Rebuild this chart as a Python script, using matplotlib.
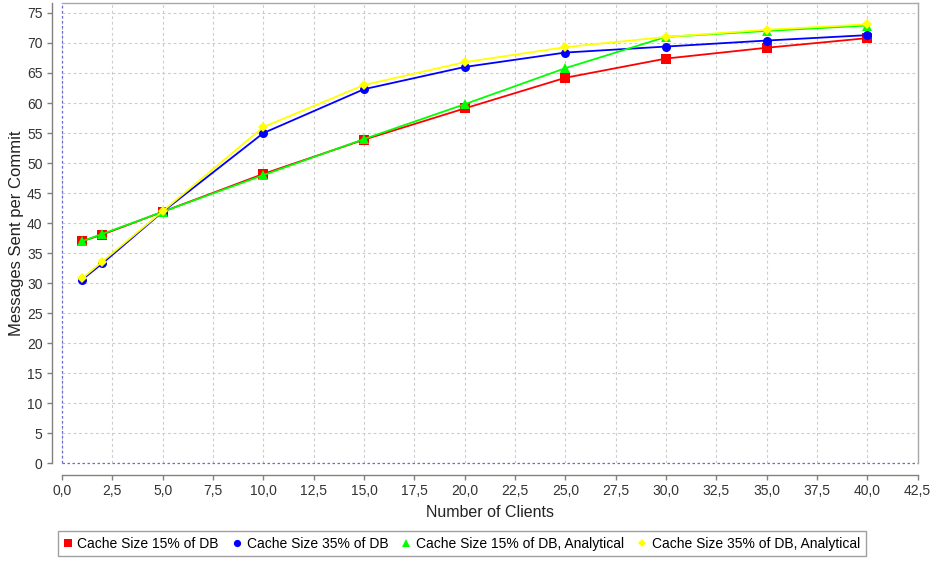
import matplotlib
matplotlib.use("Agg")
import matplotlib.pyplot as plt
from matplotlib.ticker import FuncFormatter, MultipleLocator

plt.rcParams['font.family'] = ['Liberation Sans', 'DejaVu Sans']

clients = [1, 2, 5, 10, 15, 20, 25, 30, 35, 40]
cache15 = [37.0, 38.1, 41.9, 48.2, 53.9, 59.1, 64.2, 67.4, 69.2, 70.8]
cache35 = [30.6, 33.3, 41.9, 55.0, 62.3, 66.0, 68.4, 69.4, 70.4, 71.3]
cache15_analytical = [37.0, 38.2, 41.9, 48.0, 54.0, 59.8, 65.8, 71.0, 72.0, 72.9]
cache35_analytical = [30.8, 33.6, 42.0, 56.0, 63.0, 66.8, 69.3, 71.0, 72.2, 73.1]

series = [
    ("Cache Size 15% of DB", cache15, "#ff0000", "s", 7.5),
    ("Cache Size 35% of DB", cache35, "#0000ff", "o", 6.5),
    ("Cache Size 15% of DB, Analytical", cache15_analytical, "#00ff00", "^", 6.5),
    ("Cache Size 35% of DB, Analytical", cache35_analytical, "#ffff00", "D", 5.5),
]

fig = plt.figure(figsize=(9.33, 5.61), dpi=100)
ax = fig.add_axes([0.0665, 0.1738, 0.917, 0.8214])

for label, vals, color, marker, ms in series:
    ax.plot(clients, vals, color=color, marker=marker, markersize=ms,
            linewidth=1.3, label=label, markeredgewidth=0, zorder=3)

ax.set_xlim(0, 42.5)
ax.set_ylim(0, 76.7)
ax.xaxis.set_major_locator(MultipleLocator(2.5))
ax.yaxis.set_major_locator(MultipleLocator(5))
ax.xaxis.set_major_formatter(FuncFormatter(lambda v, p: f"{v:.1f}".replace(".", ",")))
ax.yaxis.set_major_formatter(FuncFormatter(lambda v, p: f"{int(round(v))}"))

ax.grid(True, color="#cccccc", linestyle=(0, (2.5, 2.5)), linewidth=0.8)
ax.set_axisbelow(True)

# zero baselines
ax.axhline(0, color="#6b6bd0", linestyle=(0, (2, 2)), linewidth=0.9, zorder=2, clip_on=False)
ax.axvline(0, color="#6b6bd0", linestyle=(0, (2, 2)), linewidth=0.9, zorder=2, clip_on=False)

for side in ("top", "right"):
    ax.spines[side].set_color("#a8a8a8")
    ax.spines[side].set_linewidth(1.0)
ax.spines["left"].set_position(("outward", 7))
ax.spines["bottom"].set_position(("outward", 8))
for side in ("left", "bottom"):
    ax.spines[side].set_color("#808080")
    ax.spines[side].set_linewidth(1.0)

ax.tick_params(axis="both", colors="#808080", labelcolor="#333333",
               length=3.5, width=1.0, labelsize=10)

ax.set_xlabel("Number of Clients", fontsize=11.5, color="#222222", labelpad=5)
ax.set_ylabel("Messages Sent per Commit", fontsize=12, color="#222222", labelpad=2)

leg = fig.legend(loc="lower center", bbox_to_anchor=(0.495, -0.004), ncol=4,
                 fontsize=10, frameon=True, fancybox=False, handlelength=0.6,
                 handletextpad=0.4, columnspacing=1.0, borderpad=0.4,
                 markerscale=0.8, numpoints=1)
for h in leg.legend_handles:
    h.set_linestyle("none")
leg.get_frame().set_edgecolor("#888888")
leg.get_frame().set_linewidth(1.0)

fig.savefig("out.png", dpi=100)
